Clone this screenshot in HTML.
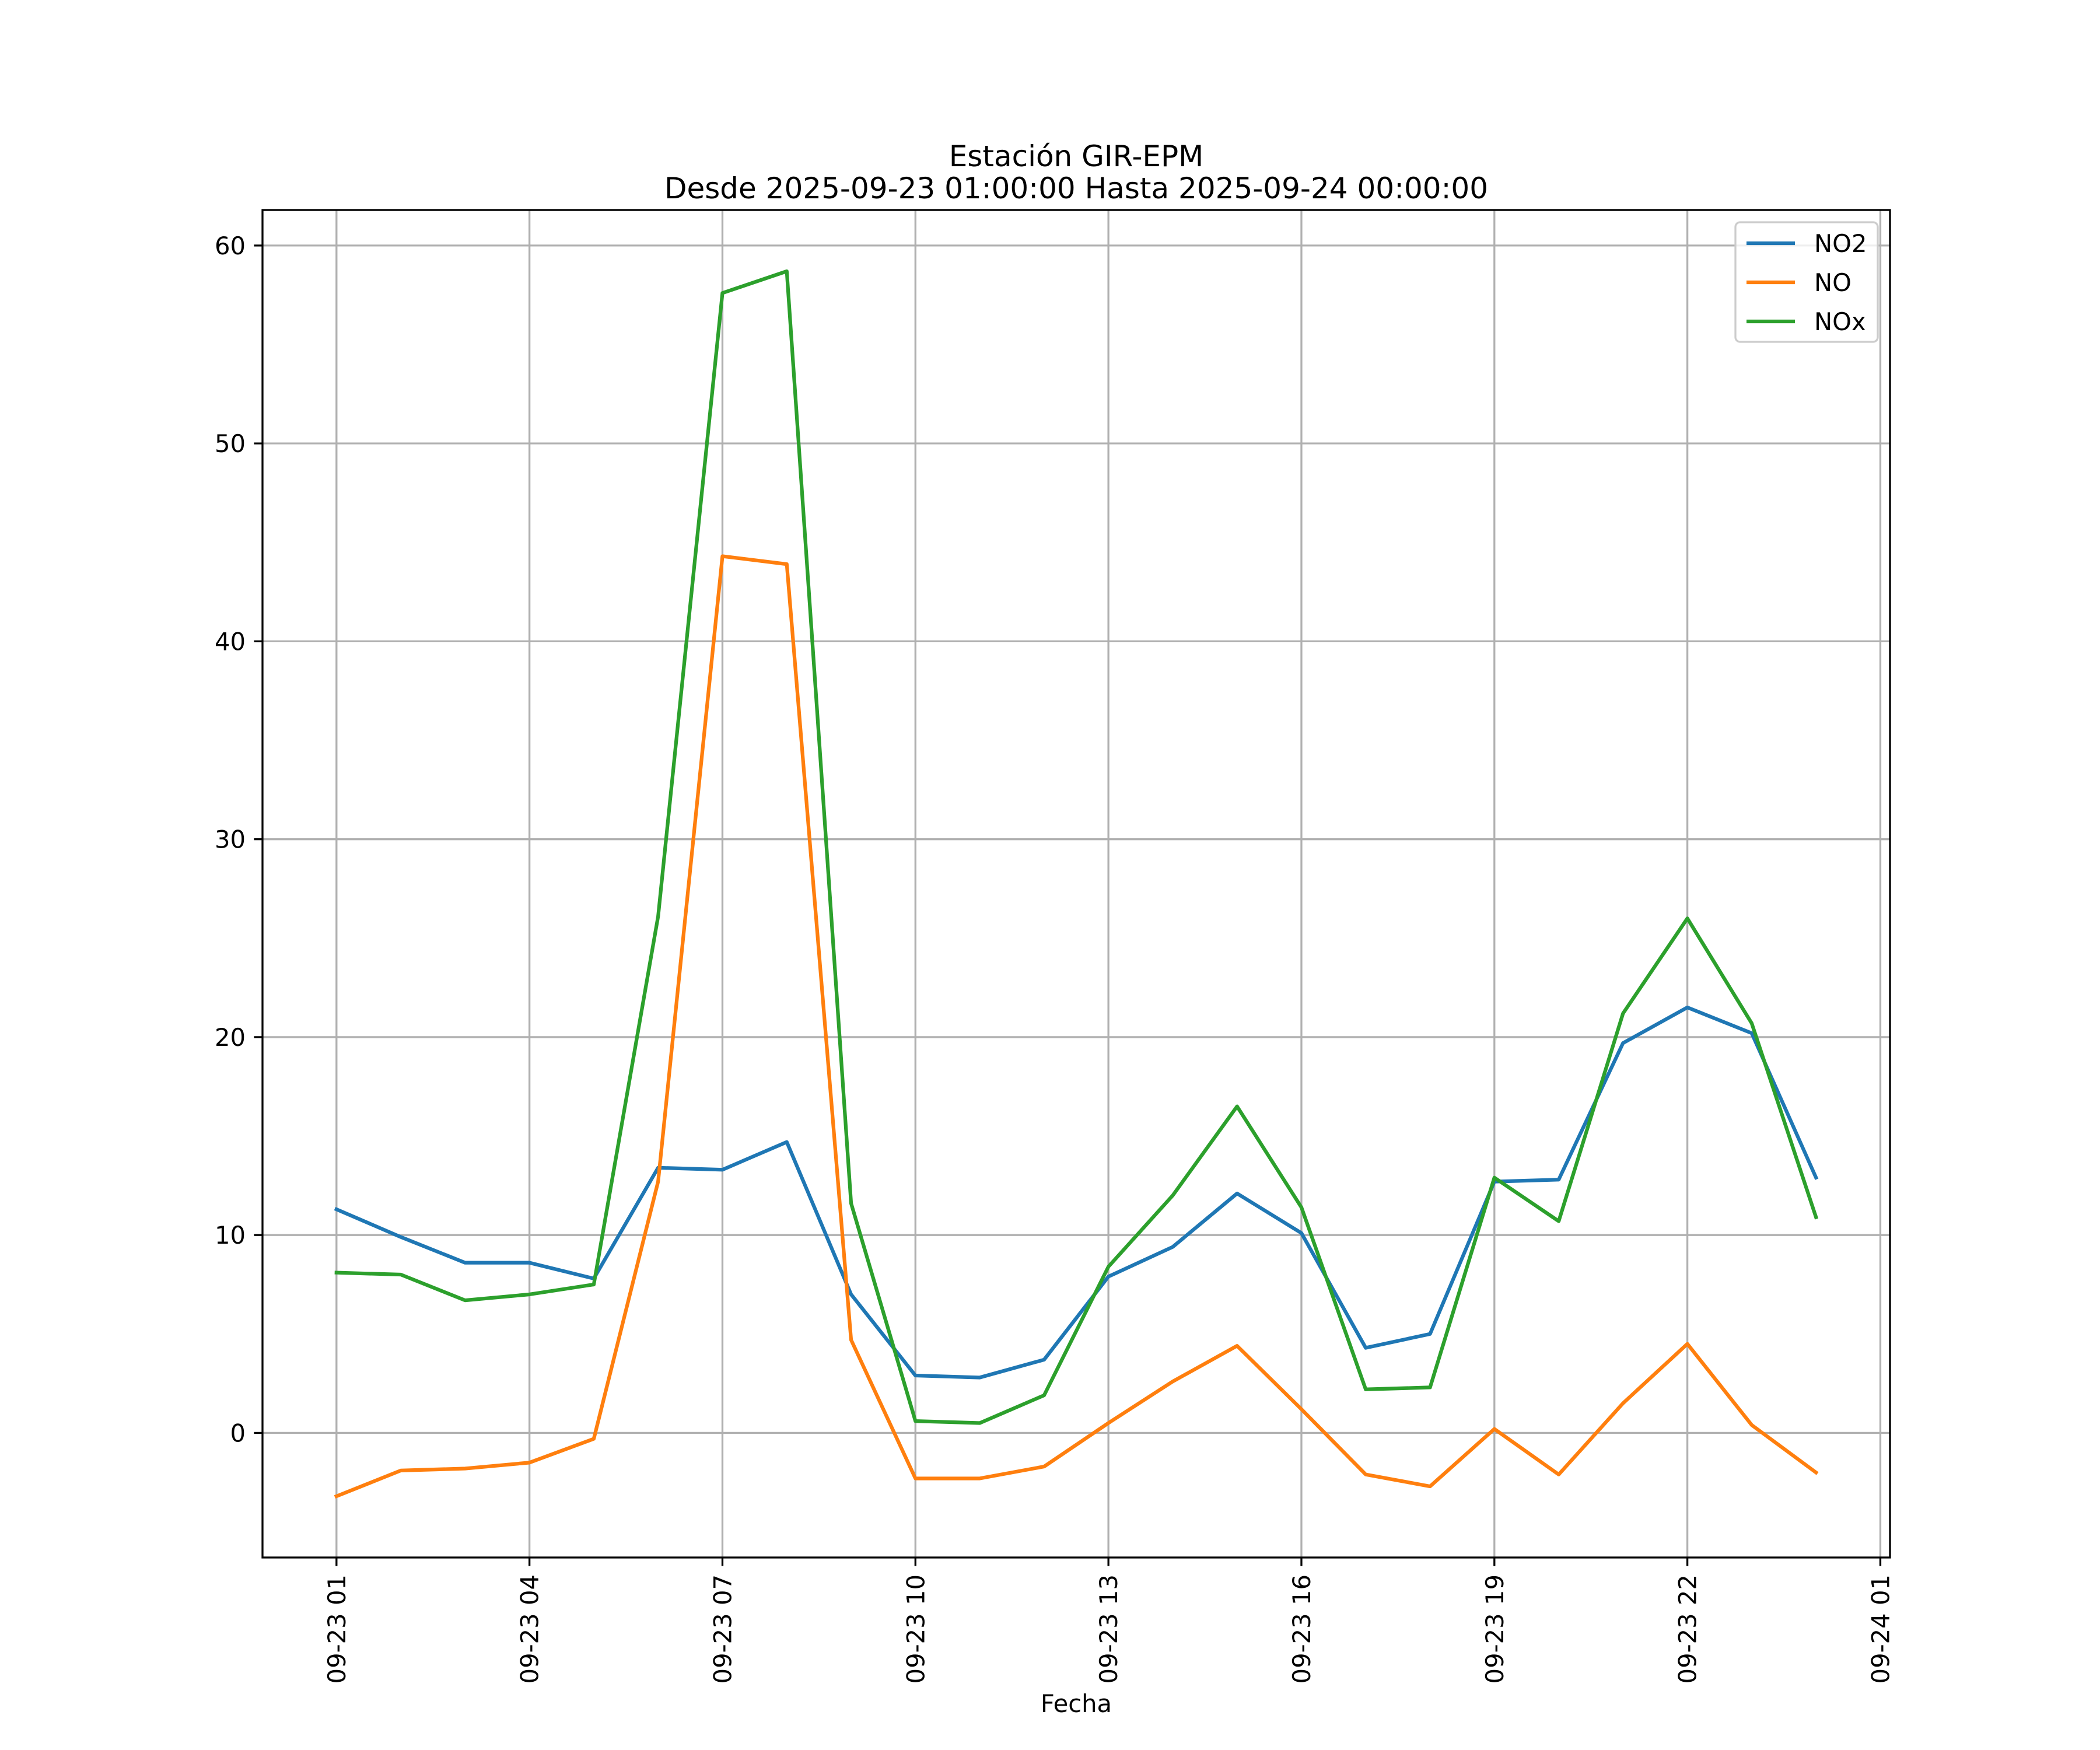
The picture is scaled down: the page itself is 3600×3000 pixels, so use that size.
<!DOCTYPE html>
<html><head><meta charset="utf-8"><style>
html,body{margin:0;padding:0;background:#fff;}
svg{display:block;font-family:"DejaVu Sans","Liberation Sans",sans-serif;}
</style></head><body>
<svg id="chart" xmlns="http://www.w3.org/2000/svg" width="3600" height="3000" viewBox="0 0 3600 3000">
<rect width="3600" height="3000" fill="#fff"/>
<g id="grid"></g>
<g id="series"></g>
<rect x="450" y="360" width="2790" height="2310" fill="none" stroke="#000" stroke-width="3.3"/>
<g id="ticks"></g>
<text x="1845" y="285" font-size="50" text-anchor="middle">Estación GIR-EPM</text>
<text x="1845" y="340" font-size="50" text-anchor="middle">Desde 2025-09-23 01:00:00 Hasta 2025-09-24 00:00:00</text>
<text x="1845" y="2935" font-size="41.7" text-anchor="middle">Fecha</text>
<g id="legend">
<rect x="2975" y="381" width="244" height="205" rx="8" fill="#fff" fill-opacity="0.8" stroke="#cccccc" stroke-width="3.3"/>
</g>
</svg>
<script>
const hours = [1,2,3,4,5,6,7,8,9,10,11,12,13,14,15,16,17,18,19,20,21,22,23,24];
const no2 = [11.3,9.9,8.6,8.6,7.8,13.4,13.3,14.7,7.0,2.9,2.8,3.7,7.9,9.4,12.1,10.1,4.3,5.0,12.7,12.8,19.7,21.5,20.2,12.9];
const no = [-3.2,-1.9,-1.8,-1.5,-0.3,12.7,44.3,43.9,4.7,-2.3,-2.3,-1.7,0.5,2.6,4.4,1.2,-2.1,-2.7,0.2,-2.1,1.5,4.5,0.4,-2.0];
const nox = [8.1,8.0,6.7,7.0,7.5,26.1,57.6,58.7,11.6,0.6,0.5,1.9,8.4,12.0,16.5,11.4,2.2,2.3,12.9,10.7,21.2,26.0,20.7,10.9];
const yTicks = [0,10,20,30,40,50,60];
const xTickHours = [1,4,7,10,13,16,19,22,25];
const xTickLabels = ["09-23 01","09-23 04","09-23 07","09-23 10","09-23 13","09-23 16","09-23 19","09-23 22","09-24 01"];
const seriesNames = ["NO2","NO","NOx"];
const seriesColors = ["#1f77b4","#ff7f0e","#2ca02c"];

const NS="http://www.w3.org/2000/svg";
const L=450,R=3240,T=360,B=2670;
const hMin=Math.min(...hours),hMax=Math.max(...hours),hr=hMax-hMin;
const x0=hMin-0.05*hr,x1=hMax+0.05*hr;
const all=no2.concat(no,nox);
const dMin=Math.min(...all),dMax=Math.max(...all),dr=dMax-dMin;
const y0=dMin-0.05*dr,y1=dMax+0.05*dr;
const X=h=>L+(h-x0)/(x1-x0)*(R-L);
const Y=v=>B-(v-y0)/(y1-y0)*(B-T);
function mk(tag,attrs,parent){const e=document.createElementNS(NS,tag);for(const k in attrs)e.setAttribute(k,attrs[k]);parent.appendChild(e);return e;}
const grid=document.getElementById('grid'),ticks=document.getElementById('ticks'),ser=document.getElementById('series'),leg=document.getElementById('legend');
yTicks.forEach(v=>{
  const y=Y(v);
  const g=mk('line',{x1:L,x2:R,y1:y,y2:y,stroke:'#b0b0b0','stroke-width':3.3},grid);
  
  
  const t=mk('line',{x1:L-14.6,x2:L,y1:y,y2:y,stroke:'#000','stroke-width':3.3},ticks);
  
  
  const tx=mk('text',{x:L-29,y:y+15,'font-size':41.7,'text-anchor':'end'},ticks);
  tx.textContent=v;
  
  
});
xTickHours.forEach((h,i)=>{
  const x=X(h);
  const g=mk('line',{x1:x,x2:x,y1:T,y2:B,stroke:'#b0b0b0','stroke-width':3.3},grid);
  
  
  const t=mk('line',{x1:x,x2:x,y1:B,y2:B+14.6,stroke:'#000','stroke-width':3.3},ticks);
  
  
  const tx=mk('text',{x:0,y:0,'font-size':41.7,'text-anchor':'end',transform:`translate(${x+15},${B+29}) rotate(-90)`},ticks);
  tx.textContent=xTickLabels[i];
  
  
});
[no2,no,nox].forEach((d,i)=>{
  const p=mk('polyline',{points:d.map((v,j)=>X(hours[j])+','+Y(v)).join(' '),fill:'none',stroke:seriesColors[i],'stroke-width':6.25,'stroke-linejoin':'round','stroke-linecap':'square'},ser);
  
  
  const ly=417+i*67;
  const l=mk('line',{x1:2994,x2:3077,y1:ly,y2:ly,stroke:seriesColors[i],'stroke-width':6.25},leg);
  
  
  const t=mk('text',{x:3110,y:ly+15,'font-size':41.7},leg);
  t.textContent=seriesNames[i];
  
  
});
</script>
</body></html>
